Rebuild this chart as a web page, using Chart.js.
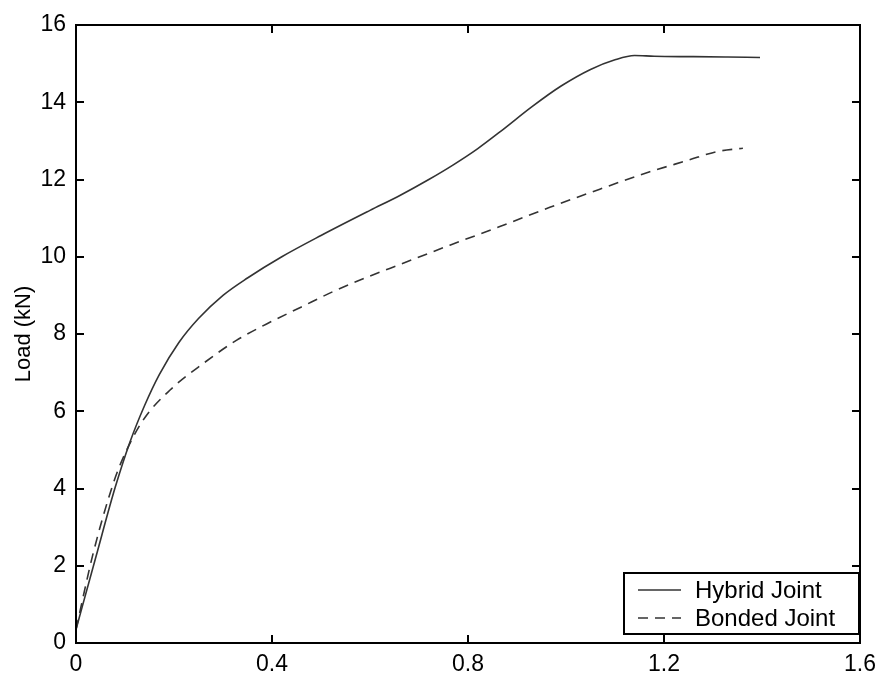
<!DOCTYPE html>
<html>
<head>
<meta charset="utf-8">
<script src="https://cdn.jsdelivr.net/npm/chart.js@4/dist/chart.umd.min.js"></script>
<style>
  html, body { margin: 0; padding: 0; background: #fff; }
  #wrap { width: 889px; height: 673px; }
</style>
</head>
<body>
<div id="wrap"><canvas id="grafico" width="889" height="673"></canvas></div>
<script>
// Curvas carga-desplazamiento de las dos uniones
const hybridX = [0, 0.04, 0.08, 0.11, 0.14, 0.17, 0.21, 0.25, 0.3, 0.35, 0.42, 0.5, 0.6, 0.66, 0.72, 0.77, 0.82, 0.87, 0.93, 0.99, 1.05, 1.1, 1.14, 1.18, 1.26, 1.33, 1.396];
const hybridY = [0.35, 2.2, 4.03, 5.2, 6.15, 6.95, 7.78, 8.4, 9.0, 9.45, 10.0, 10.55, 11.2, 11.58, 12.0, 12.38, 12.8, 13.28, 13.88, 14.42, 14.85, 15.1, 15.21, 15.19, 15.18, 15.17, 15.16];

const bondedX = [0, 0.035, 0.076, 0.097, 0.137, 0.192, 0.26, 0.328, 0.389, 0.46, 0.525, 0.6, 0.661, 0.763, 0.865, 0.967, 1.069, 1.171, 1.25, 1.307, 1.361];
const bondedY = [0.35, 2.32, 4.13, 4.82, 5.77, 6.55, 7.24, 7.84, 8.26, 8.7, 9.1, 9.5, 9.8, 10.3, 10.78, 11.28, 11.75, 12.2, 12.5, 12.72, 12.81];

const xTicks = [0, 0.4, 0.8, 1.2, 1.6];
const yTicks = [0, 2, 4, 6, 8, 10, 12, 14, 16];

const toPoints = (xs, ys) => xs.map((x, i) => ({ x, y: ys[i] }));

// Marcas de escala hacia adentro en los cuatro lados
const ticksAdentro = {
  id: 'ticksAdentro',
  afterDraw(chart) {
    const { ctx, chartArea: a, scales } = chart;
    const len = 8;
    ctx.save();
    ctx.strokeStyle = '#000';
    ctx.lineWidth = 2;
    ctx.beginPath();
    xTicks.forEach(v => {
      const px = Math.round(scales.x.getPixelForValue(v));
      ctx.moveTo(px, a.bottom); ctx.lineTo(px, a.bottom - len);
      ctx.moveTo(px, a.top); ctx.lineTo(px, a.top + len);
    });
    yTicks.forEach(v => {
      const py = Math.round(scales.y.getPixelForValue(v));
      ctx.moveTo(a.left, py); ctx.lineTo(a.left + len, py);
      ctx.moveTo(a.right, py); ctx.lineTo(a.right - len, py);
    });
    ctx.stroke();
    ctx.strokeRect(a.left, a.top, a.right - a.left, a.bottom - a.top);
    ctx.restore();
  }
};

// Leyenda con recuadro en la esquina inferior derecha
const leyendaCaja = {
  id: 'leyendaCaja',
  afterDraw(chart) {
    const { ctx, chartArea: a } = chart;
    const w = 235, h = 61;
    const x0 = a.right - w - 1, y0 = a.bottom - h - 9;
    ctx.save();
    ctx.fillStyle = '#fff';
    ctx.fillRect(x0, y0, w, h);
    ctx.strokeStyle = '#000';
    ctx.lineWidth = 2;
    ctx.strokeRect(x0, y0, w, h);
    ctx.font = '24px "Liberation Sans", Arial, sans-serif';
    ctx.textBaseline = 'middle';
    chart.data.datasets.forEach((ds, i) => {
      const cy = y0 + 17 + i * 28;
      ctx.strokeStyle = ds.borderColor;
      ctx.lineWidth = ds.borderWidth;
      ctx.setLineDash(ds.borderDash || []);
      ctx.beginPath();
      ctx.moveTo(x0 + 14, cy);
      ctx.lineTo(x0 + 57, cy);
      ctx.stroke();
      ctx.setLineDash([]);
      ctx.fillStyle = '#000';
      ctx.fillText(ds.label, x0 + 71, cy + 1);
    });
    ctx.restore();
  }
};

new Chart(document.getElementById('grafico').getContext('2d'), {
  type: 'line',
  data: {
    datasets: [
      {
        label: 'Hybrid Joint',
        data: toPoints(hybridX, hybridY),
        borderColor: '#333',
        borderWidth: 1.6,
        pointRadius: 0,
        cubicInterpolationMode: 'monotone',
        fill: false
      },
      {
        label: 'Bonded Joint',
        data: toPoints(bondedX, bondedY),
        borderColor: '#333',
        borderWidth: 1.6,
        borderDash: [10, 7],
        pointRadius: 0,
        cubicInterpolationMode: 'monotone',
        fill: false
      }
    ]
  },
  options: {
    responsive: false,
    animation: false,
    layout: { padding: { top: 25, right: 29, left: 0, bottom: 0 } },
    plugins: {
      legend: { display: false },
      tooltip: { enabled: false }
    },
    scales: {
      x: {
        type: 'linear',
        min: 0,
        max: 1.6,
        afterBuildTicks: s => { s.ticks = xTicks.map(v => ({ value: v })); },
        afterFit: s => { s.height = 30; },
        grid: { display: false, drawTicks: false },
        border: { display: false },
        ticks: {
          padding: 8,
          color: '#000',
          font: { family: '"Liberation Sans", Arial, sans-serif', size: 23 },
          callback: v => (v === 0 ? '0' : v.toFixed(1))
        }
      },
      y: {
        type: 'linear',
        min: 0,
        max: 16,
        afterBuildTicks: s => { s.ticks = yTicks.map(v => ({ value: v })); },
        afterFit: s => { s.width = 76; },
        grid: { display: false, drawTicks: false },
        border: { display: false },
        title: {
          display: true,
          text: 'Load (kN)',
          color: '#000',
          padding: { top: 11, bottom: 0 },
          font: { family: '"Liberation Sans", Arial, sans-serif', size: 22 }
        },
        ticks: {
          padding: 10,
          color: '#000',
          font: { family: '"Liberation Sans", Arial, sans-serif', size: 23 }
        }
      }
    }
  },
  plugins: [ticksAdentro, leyendaCaja]
});
</script>
</body>
</html>
